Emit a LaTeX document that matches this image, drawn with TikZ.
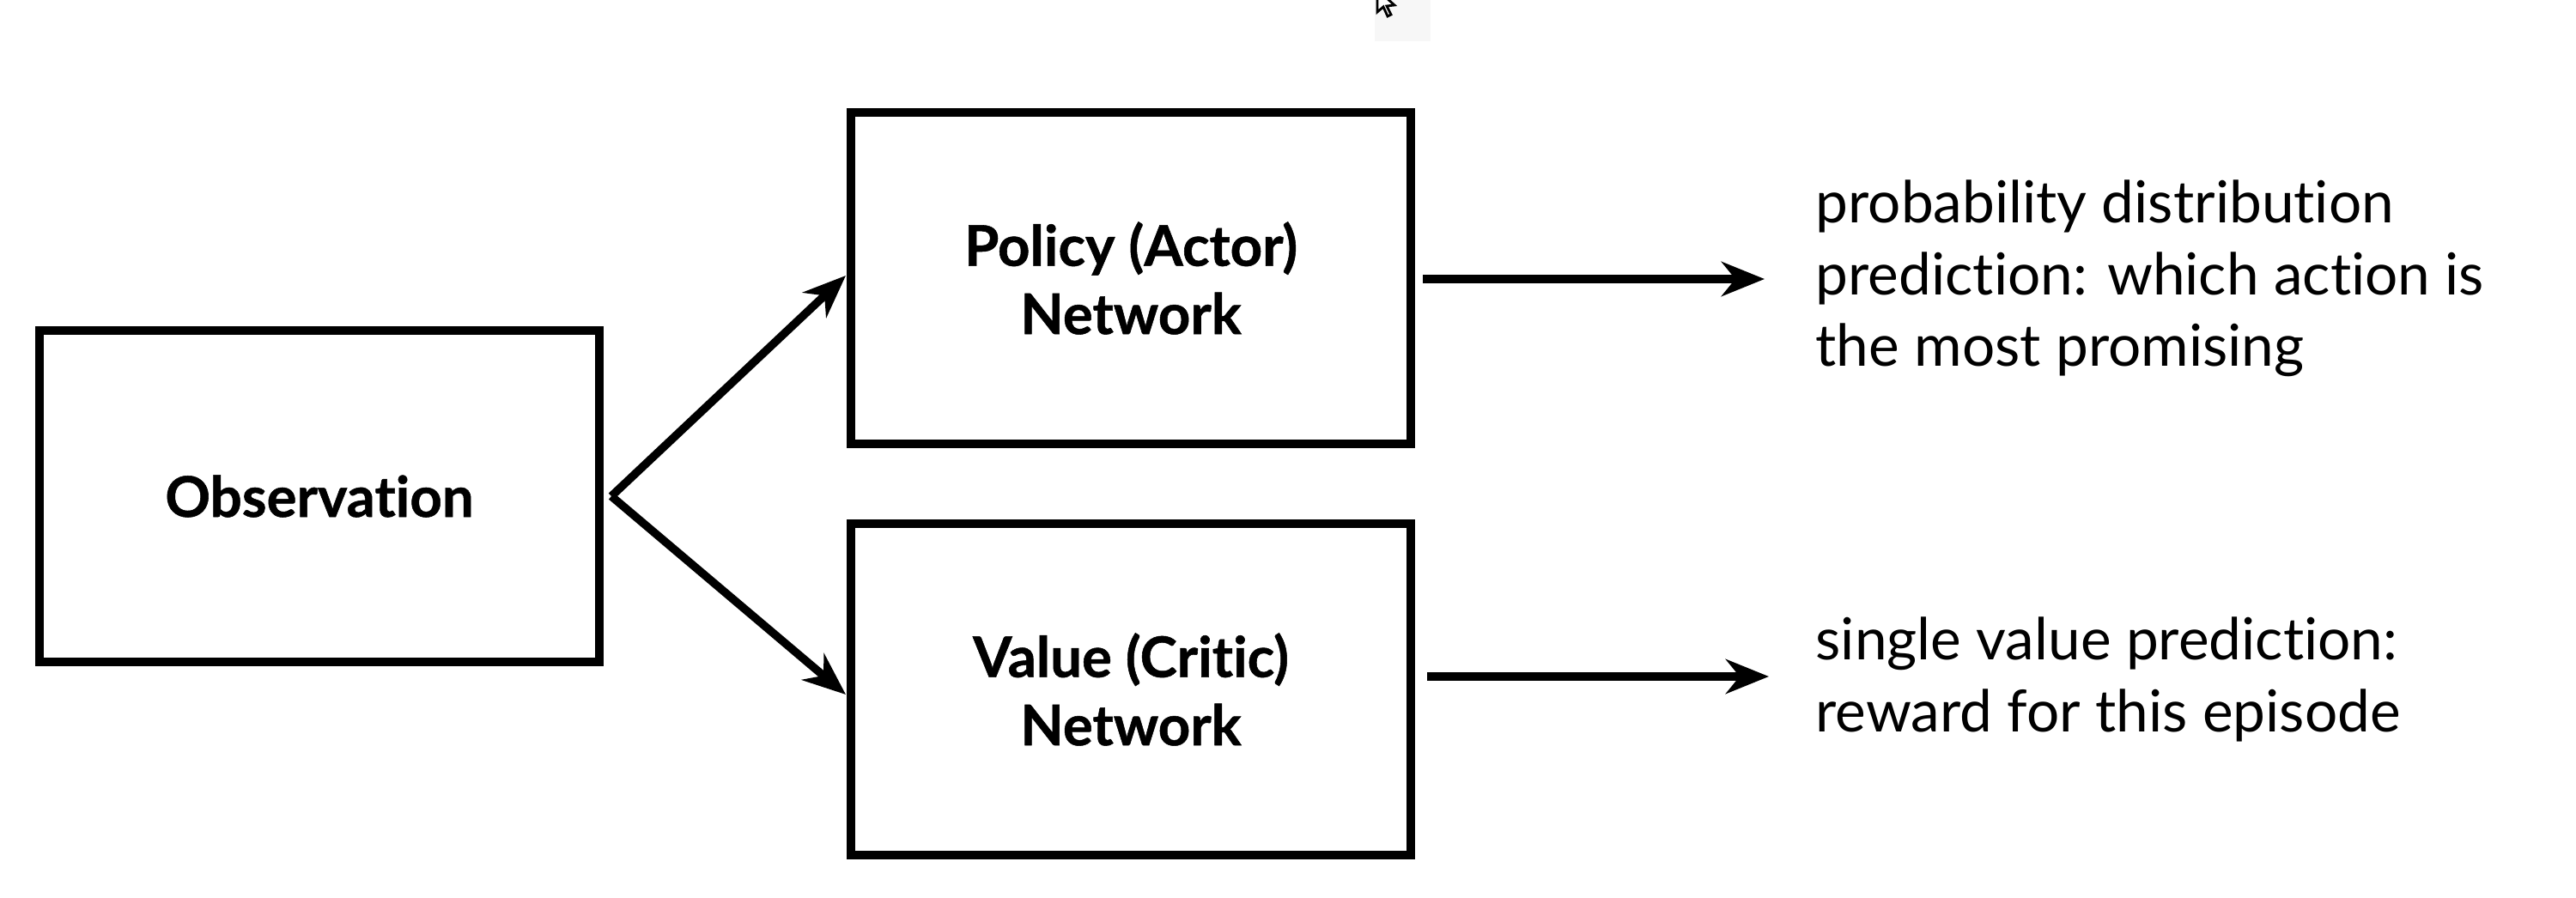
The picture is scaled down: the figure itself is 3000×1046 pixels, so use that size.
\documentclass[tikz,border=0pt]{standalone}
\usepackage{fontspec}
\setmainfont{Lato}[RawFeature={-liga},BoldFeatures={FakeBold=0.8}]
\usetikzlibrary{arrows.meta}
\begin{document}
\begin{tikzpicture}[x=0.01cm,y=-0.01cm,
  netbox/.style={draw=black,line width=2.9pt,minimum width=6.52cm,minimum height=3.86cm,
    align=center,font=\fontsize{18.6}{22.6}\selectfont\bfseries,inner sep=0pt},
  flow/.style={line width=2.7pt,-{Stealth[length=0.5cm,width=0.4cm,inset=0.16cm]}},
  outtext/.style={anchor=north west,align=left,inner sep=0pt,
    font=\fontsize{19.2}{23.8}\selectfont}]
  \useasboundingbox (0,0) rectangle (3000,1046);
  \clip (0,0) rectangle (3000,1046);

  % pointer left over at the top edge
  \fill[black!3] (1601,0) rectangle (1666,48);
  \draw[fill=white,line width=0.8pt,line join=miter]
    (1604,-12) -- (1604,14) -- (1611,8) -- (1616,19) -- (1620,17) -- (1615,7) -- (1624,6) -- cycle;

  % network blocks
  \node[netbox] (obs) at (372,578) {Observation};
  \node[netbox] (pol) at (1317,324) {Policy (Actor)\\Network};
  \node[netbox] (val) at (1317,803) {Value (Critic)\\Network};

  % split point and arrow ends
  \coordinate (split) at (712,578);
  \coordinate (polin) at (985,321);
  \coordinate (valin) at (985,809);
  \coordinate (polstart) at (1657,325);
  \coordinate (polout) at (2055,325);
  \coordinate (valstart) at (1662,788);
  \coordinate (valout) at (2060,788);

  \draw[flow] (split) -- (polin);
  \draw[flow] (split) -- (valin);
  \draw[flow] (polstart) -- (polout);
  \draw[flow] (valstart) -- (valout);

  % output descriptions
  \node[outtext] (polt) at (2114,209) {probability distribution\\prediction: which action is\\the most promising};
  \node[outtext] (valt) at (2114,718) {single value prediction:\\reward for this episode};
\end{tikzpicture}
\end{document}
